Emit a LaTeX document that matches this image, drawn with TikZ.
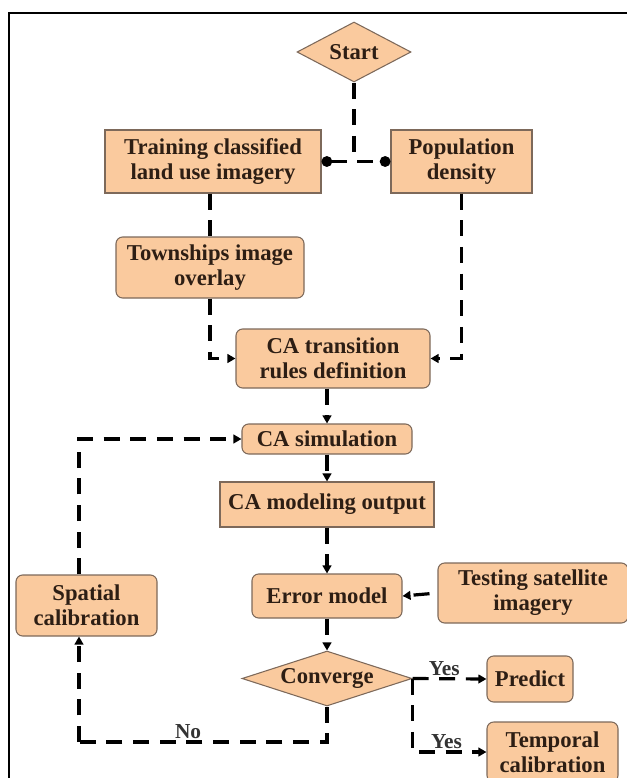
\documentclass[tikz,border=0pt]{standalone}
\usepackage{fontspec}
\setmainfont{Liberation Serif}
\usetikzlibrary{shapes.geometric,arrows.meta,positioning}
\definecolor{boxfill}{RGB}{250,202,158}
\definecolor{boxline}{RGB}{125,105,90}
\definecolor{boxtext}{RGB}{45,30,20}

\begin{document}
\begin{tikzpicture}[x=0.75pt,y=-0.75pt]

\tikzset{
  boxtxt/.style={font=\fontsize{17}{18.75}\selectfont\bfseries, text=boxtext, align=center},
  procbox/.style={rectangle, draw=boxline, fill=boxfill, line width=0.8pt,
                  boxtxt, inner sep=1pt},
  roundbox/.style={procbox, rounded corners=5pt},
  decision/.style={diamond, draw=boxline, fill=boxfill, line width=0.8pt,
                  boxtxt, inner sep=0pt},
  boundary/.style={draw=black, line width=1.6pt},
  flow/.style={black, line width=2.4pt, dash pattern=on 12pt off 8pt},
  flowarrow/.style={flow, -{Triangle[length=6pt, width=6.5pt]}},
  dotlink/.style={flow, {Circle[length=8pt]}-{Circle[length=8pt]}},
  answer/.style={font=\fontsize{16}{18}\selectfont\bfseries, text=black!80, inner sep=1pt}
}

\useasboundingbox (0,0) rectangle (627,778);

% Boundary
\draw[boundary] (9,13) rectangle (660,800);

% Top part
\node[decision, shape aspect=2, minimum width=85.5pt, minimum height=45pt] (start) at (354,52) {Start};
\node[procbox, minimum width=162pt, minimum height=47.25pt] (train) at (213,161.5) {Training classified\\land use imagery};
\node[procbox, minimum width=105.75pt, minimum height=47.25pt] (popd) at (461.5,161.5) {Population\\density};
\node[roundbox, minimum width=141pt, minimum height=45.75pt] (town) at (210,267.5) {Townships image\\overlay};

% CA chain
\node[roundbox, minimum width=145.5pt, minimum height=44.25pt] (catr) at (333,358.5) {CA transition\\rules definition};
\node[roundbox, minimum width=127.5pt, minimum height=22.5pt] (casim) at (327,439) {CA simulation};
\node[procbox, minimum width=160.5pt, minimum height=33.75pt] (caout) at (327,504.5) {CA modeling output};
\node[roundbox, minimum width=112.5pt, minimum height=33pt] (err) at (327,596) {Error model};
\node[roundbox, minimum width=142.5pt, minimum height=45pt] (test) at (533,593) {Testing satellite\\imagery};
\node[decision, shape aspect=3.2, minimum width=127.5pt, minimum height=41.25pt] (conv) at (327,678.5) {Converge};

% Outcomes
\node[roundbox, minimum width=105.75pt, minimum height=45.75pt] (spat) at (86.5,605.5) {Spatial\\calibration};
\node[roundbox, minimum width=64.5pt, minimum height=34.5pt] (pred) at (530,679) {Predict};
\node[roundbox, minimum width=98.25pt, minimum height=45pt] (temp) at (552.5,752) {Temporal\\calibration};

\coordinate (loopx) at (79,742);

% Lines
\draw[flow] (start.south) -- (start.south |- train.east);
\draw[dotlink] (train.east) -- (popd.west);
\draw[flow] (train.south -| town.north) -- (town.north);
\draw[flowarrow] (town.south) |- (catr.west);
\draw[flowarrow] (popd.south) |- (catr.east);
\draw[flowarrow] (catr.south -| casim.north) -- (casim.north);
\draw[flowarrow] (casim.south) -- (caout.north);
\draw[flowarrow] (caout.south) -- (err.north);
\draw[flowarrow, dash phase=14pt] (test.west) -- (err.east);
\draw[flowarrow] (err.south) -- (conv.north);
\draw[flowarrow] (conv.east) -- node[answer, pos=0.43, above] {Yes} (pred.west);
\draw[flowarrow] (conv.east) |- node[answer, pos=0.73, above] {Yes} (temp.west);
\draw[flow] (conv.south) |- node[answer, pos=0.78, above] {No} (loopx);
\draw[flowarrow] (loopx) -- (loopx |- spat.south);
\draw[flowarrow] (loopx |- spat.north) |- (casim.west);

\end{tikzpicture}
\end{document}
